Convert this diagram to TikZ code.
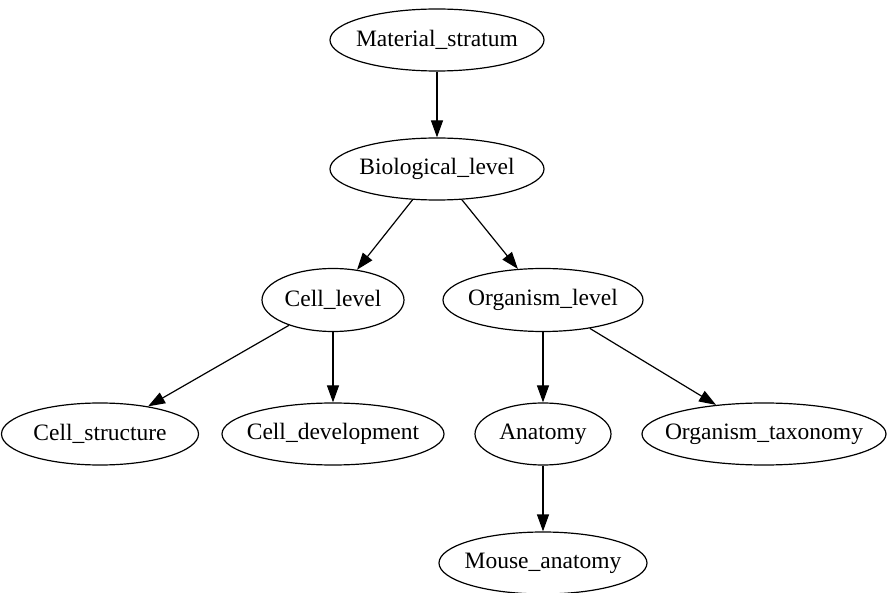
\documentclass[tikz,border=0pt]{standalone}
\usepackage{fontspec}
\setmainfont{Liberation Serif}
\usetikzlibrary{shapes.geometric,arrows.meta}
\newcommand\nlab[1]{\makebox[0pt]{#1}}
\begin{document}
\begin{tikzpicture}[x=1pt,y=-1pt,
  nd/.style={ellipse,draw,line width=1.2pt,inner sep=0pt,font=\fontsize{23.5}{28}\selectfont},
  edge/.style={line width=1.2pt,-{Triangle[length=17pt,width=12pt]}}]
\useasboundingbox (0,0) rectangle (889,593);
\node[nd,minimum width=214pt,minimum height=62pt] (ms) at (437,40) {\nlab{Material\_stratum}};
\node[nd,minimum width=214pt,minimum height=62pt] (bl) at (437,169) {\nlab{Biological\_level}};
\node[nd,minimum width=142pt,minimum height=63pt] (cl) at (333,300) {\nlab{Cell\_level}};
\node[nd,minimum width=200pt,minimum height=63pt] (ol) at (543,300) {\nlab{Organism\_level}};
\node[nd,minimum width=197pt,minimum height=62pt] (cs) at (100,434) {\nlab{Cell\_structure}};
\node[nd,minimum width=222pt,minimum height=62pt] (cd) at (333,434) {\nlab{Cell\_development}};
\node[nd,minimum width=136pt,minimum height=62pt] (an) at (543,434) {\nlab{Anatomy}};
\node[nd,minimum width=244pt,minimum height=62pt] (ot) at (764,434) {\nlab{Organism\_taxonomy}};
\node[nd,minimum width=208pt,minimum height=62pt] (ma) at (543,563) {\nlab{Mouse\_anatomy}};
\draw[edge] (ms) -- (bl);
\draw[edge] (bl) -- (cl);
\draw[edge] (bl) -- (ol);
\draw[edge] (cl) -- (cs);
\draw[edge] (cl) -- (cd);
\draw[edge] (ol) -- (an);
\draw[edge] (ol) -- (ot);
\draw[edge] (an) -- (ma);
\end{tikzpicture}
\end{document}
